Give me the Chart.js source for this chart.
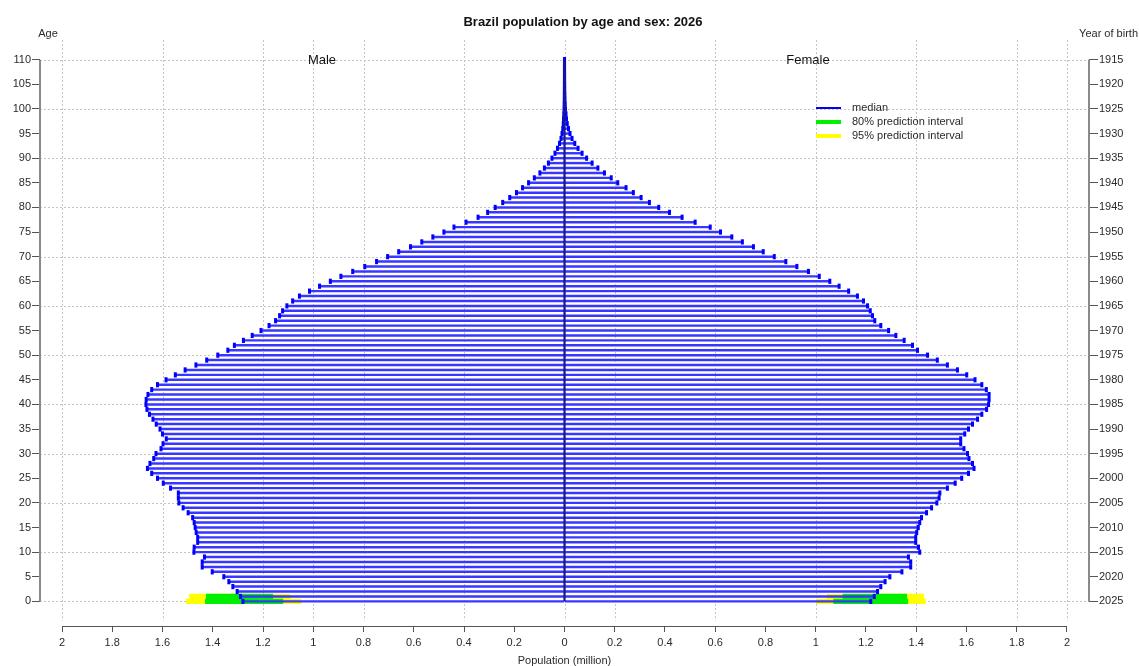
<!DOCTYPE html>
<html>
<head>
<meta charset="utf-8">
<script src="https://cdn.jsdelivr.net/npm/chart.js@4.4.1/dist/chart.umd.min.js"></script>
<style>
  body { margin: 0; background: #fff; }
  canvas { display: block; }
</style>
</head>
<body>
<canvas id="piramide" width="1139" height="666"></canvas>
<script>
// median population (million) by single year of age, 0..110
const maleMedian = [
  1.280, 1.290, 1.303, 1.320, 1.336, 1.356, 1.402, 1.442, 1.442, 1.433,
  1.475, 1.474, 1.460, 1.460, 1.466, 1.470, 1.474, 1.480, 1.498, 1.518,
  1.535, 1.537, 1.537, 1.568, 1.597, 1.620, 1.643, 1.660, 1.650, 1.635,
  1.626, 1.606, 1.598, 1.585, 1.600, 1.610, 1.625, 1.638, 1.652, 1.662,
  1.666, 1.665, 1.658, 1.643, 1.620, 1.586, 1.549, 1.510, 1.467, 1.424,
  1.380, 1.340, 1.314, 1.278, 1.243, 1.208, 1.176, 1.150, 1.134, 1.122,
  1.105, 1.082, 1.055, 1.015, 0.975, 0.932, 0.890, 0.843, 0.795, 0.748,
  0.704, 0.660, 0.613, 0.568, 0.524, 0.480, 0.440, 0.392, 0.344, 0.306,
  0.276, 0.246, 0.218, 0.191, 0.167, 0.143, 0.120, 0.098, 0.080, 0.064,
  0.050, 0.038, 0.028, 0.020, 0.014, 0.010, 0.007, 0.005, 0.004, 0.003,
  0.002, 0.0015, 0.001, 0.0008, 0.0006, 0.0005, 0.0004, 0.0003, 0.0003, 0.0002, 0.0002
];
const femaleMedian = [
  1.219, 1.233, 1.246, 1.259, 1.276, 1.295, 1.343, 1.378, 1.378, 1.369,
  1.414, 1.409, 1.398, 1.398, 1.402, 1.408, 1.414, 1.421, 1.441, 1.461,
  1.482, 1.491, 1.494, 1.524, 1.555, 1.581, 1.608, 1.630, 1.624, 1.610,
  1.604, 1.590, 1.577, 1.577, 1.593, 1.608, 1.624, 1.644, 1.661, 1.680,
  1.688, 1.690, 1.690, 1.679, 1.661, 1.634, 1.601, 1.564, 1.524, 1.484,
  1.445, 1.405, 1.385, 1.352, 1.319, 1.290, 1.259, 1.235, 1.226, 1.217,
  1.206, 1.190, 1.166, 1.131, 1.093, 1.056, 1.014, 0.971, 0.925, 0.881,
  0.835, 0.791, 0.752, 0.708, 0.666, 0.621, 0.580, 0.520, 0.468, 0.418,
  0.375, 0.338, 0.305, 0.274, 0.245, 0.212, 0.186, 0.159, 0.133, 0.110,
  0.088, 0.070, 0.054, 0.041, 0.030, 0.022, 0.016, 0.011, 0.008, 0.006,
  0.004, 0.003, 0.002, 0.0015, 0.001, 0.0008, 0.0006, 0.0005, 0.0004, 0.0003, 0.0003
];
const ages = maleMedian.map((_, i) => i);

// prediction intervals, only for the newborn cohorts (age 0 and 1)
const piAges = [0, 1];
const male95 = [[1.047, 1.507], [1.091, 1.494]];
const male80 = [[1.120, 1.431], [1.160, 1.427]];
const female95 = [[1.001, 1.438], [1.044, 1.431]];
const female80 = [[1.070, 1.368], [1.107, 1.363]];

const xTicks = [-2, -1.8, -1.6, -1.4, -1.2, -1, -0.8, -0.6, -0.4, -0.2, 0,
                0.2, 0.4, 0.6, 0.8, 1, 1.2, 1.4, 1.6, 1.8, 2];
const yTicks = [0, 5, 10, 15, 20, 25, 30, 35, 40, 45, 50, 55, 60, 65, 70, 75, 80, 85, 90, 95, 100, 105, 110];
const gridX = [-2, -1.6, -1.2, -1, -0.8, -0.4, 0, 0.2, 0.6, 1, 1.4, 1.8, 2];
const gridY = [0, 10, 20, 30, 40, 50, 60, 70, 80, 90, 100, 110];
const baseYear = 2025;

const FONT = "'Liberation Sans', Arial, sans-serif";
Chart.defaults.font.family = FONT;
Chart.defaults.font.size = 11;
Chart.defaults.color = '#2a2a2a';

const azul = 'rgb(55,55,255)';

function barras(vals, sinal, cor, pct, ordem) {
  return {
    type: 'bar', indexAxis: 'y', grouped: false, order: ordem,
    data: vals.map((v, i) => ({ x: sinal * v, y: ages[i] })),
    backgroundColor: cor, borderWidth: 0,
    barPercentage: pct, categoryPercentage: 1
  };
}
function intervalo(pares, sinal, cor, ordem) {
  return {
    type: 'bar', indexAxis: 'y', grouped: false, order: ordem,
    data: pares.map((p, i) => ({ x: [sinal * p[0], sinal * p[1]], y: piAges[i] })),
    backgroundColor: cor, borderWidth: 0,
    barPercentage: 1.1, categoryPercentage: 1
  };
}
function marcas(vals, sinal) {
  return {
    type: 'scatter', order: 1,
    data: vals.map((v, i) => ({ x: sinal * v, y: ages[i] })),
    pointStyle: 'line', rotation: 90, pointRadius: 2.6,
    borderColor: '#0000ff', borderWidth: 3, backgroundColor: '#0000ff'
  };
}

const decor = {
  id: 'decor',
  beforeDatasetsDraw(chart) {
    const { ctx, chartArea: a, scales: { x, y } } = chart;
    ctx.save();
    ctx.strokeStyle = '#c4c4c4';
    ctx.lineWidth = 1;
    ctx.setLineDash([2, 2]);
    gridY.forEach(v => {
      const py = Math.round(y.getPixelForValue(v)) + 0.5;
      ctx.beginPath(); ctx.moveTo(a.left, py); ctx.lineTo(a.right, py); ctx.stroke();
    });
    gridX.forEach(v => {
      const px = Math.round(x.getPixelForValue(v)) + 0.5;
      ctx.beginPath(); ctx.moveTo(px, a.top); ctx.lineTo(px, y.getPixelForValue(-3.9)); ctx.stroke();
    });
    ctx.restore();
  },
  afterDraw(chart) {
    const { ctx, chartArea: a, scales: { x, y } } = chart;
    ctx.save();
    // axis lines
    ctx.strokeStyle = '#8a8a8a';
    ctx.lineWidth = 2;
    [a.left, a.right].forEach(px => {
      ctx.beginPath();
      ctx.moveTo(px, y.getPixelForValue(0));
      ctx.lineTo(px, y.getPixelForValue(110));
      ctx.stroke();
    });
    ctx.strokeStyle = '#555';
    ctx.lineWidth = 1;
    ctx.beginPath();
    ctx.moveTo(x.getPixelForValue(-2), a.bottom + 0.5);
    ctx.lineTo(x.getPixelForValue(2), a.bottom + 0.5);
    ctx.stroke();

    // texts
    ctx.fillStyle = '#111';
    ctx.textBaseline = 'middle';
    ctx.textAlign = 'center';
    ctx.font = 'bold 13px ' + FONT;
    ctx.fillText('Brazil population by age and sex: 2026', 583, 22);
    ctx.font = '11px ' + FONT;
    ctx.fillStyle = '#2a2a2a';
    ctx.fillText('Age', 48, 34);
    ctx.textAlign = 'right';
    ctx.fillText('Year of birth', 1138, 34);
    ctx.textAlign = 'center';
    ctx.fillText('Population (million)', x.getPixelForValue(0), 661);
    ctx.font = '13px ' + FONT;
    ctx.fillStyle = '#111';
    ctx.fillText('Male', 322, 60);
    ctx.fillText('Female', 808, 60);

    // legend
    const itens = [
      ['median', '#0000ff', 2],
      ['80% prediction interval', '#00ee00', 4],
      ['95% prediction interval', '#ffff00', 4]
    ];
    ctx.font = '11px ' + FONT;
    ctx.textAlign = 'left';
    ctx.fillStyle = '#2a2a2a';
    itens.forEach((it, i) => {
      const ly = 108 + i * 14;
      ctx.strokeStyle = it[1];
      ctx.lineWidth = it[2];
      ctx.beginPath(); ctx.moveTo(816, ly); ctx.lineTo(841, ly); ctx.stroke();
      ctx.fillText(it[0], 852, ly);
    });
    ctx.restore();
  }
};

const ctx = document.getElementById('piramide');
new Chart(ctx, {
  type: 'bar',
  data: {
    datasets: [
      intervalo(male95, -1, '#ffff00', 11),
      intervalo(female95, 1, '#ffff00', 11),
      intervalo(male80, -1, '#00ee00', 10),
      intervalo(female80, 1, '#00ee00', 10),
      barras(maleMedian, -1, azul, 0.5, 5),
      barras(femaleMedian, 1, azul, 0.5, 5),
      marcas(maleMedian, -1),
      marcas(femaleMedian, 1),
      {
        type: 'line', order: 0,
        data: [{ x: 0, y: 0 }, { x: 0, y: 110 }],
        borderColor: 'rgb(25,25,140)', borderWidth: 2.2, pointRadius: 0
      }
    ]
  },
  options: {
    indexAxis: 'y',
    responsive: false,
    animation: false,
    layout: { padding: { top: 40, left: 0, right: 0, bottom: 0 } },
    plugins: { legend: { display: false }, tooltip: { enabled: false }, title: { display: false } },
    scales: {
      x: {
        type: 'linear', min: -2.0876, max: 2.0876,
        afterBuildTicks: s => { s.ticks = xTicks.map(v => ({ value: v })); },
        afterFit: s => { s.height = 40; },
        ticks: { callback: v => String(Math.abs(v)), padding: 4, autoSkip: false, maxRotation: 0 },
        grid: { drawOnChartArea: false, drawTicks: true, tickLength: 6, tickColor: '#555' },
        border: { display: false }
      },
      y: {
        type: 'linear', position: 'left', min: -5, max: 114,
        offset: false,
        afterBuildTicks: s => { s.ticks = yTicks.map(v => ({ value: v })); },
        afterFit: s => { s.width = 40; },
        ticks: { padding: 1, autoSkip: false },
        grid: { drawOnChartArea: false, drawTicks: true, tickLength: 8, tickColor: '#555', offset: false },
        border: { display: false }
      },
      y2: {
        type: 'linear', position: 'right', min: -5, max: 114,
        offset: false,
        afterBuildTicks: s => { s.ticks = yTicks.map(v => ({ value: v })); },
        afterFit: s => { s.width = 50; },
        ticks: { callback: v => String(baseYear - v), padding: 1, autoSkip: false },
        grid: { drawOnChartArea: false, drawTicks: true, tickLength: 9, tickColor: '#555', offset: false },
        border: { display: false }
      }
    }
  },
  plugins: [decor]
});
</script>
</body>
</html>
